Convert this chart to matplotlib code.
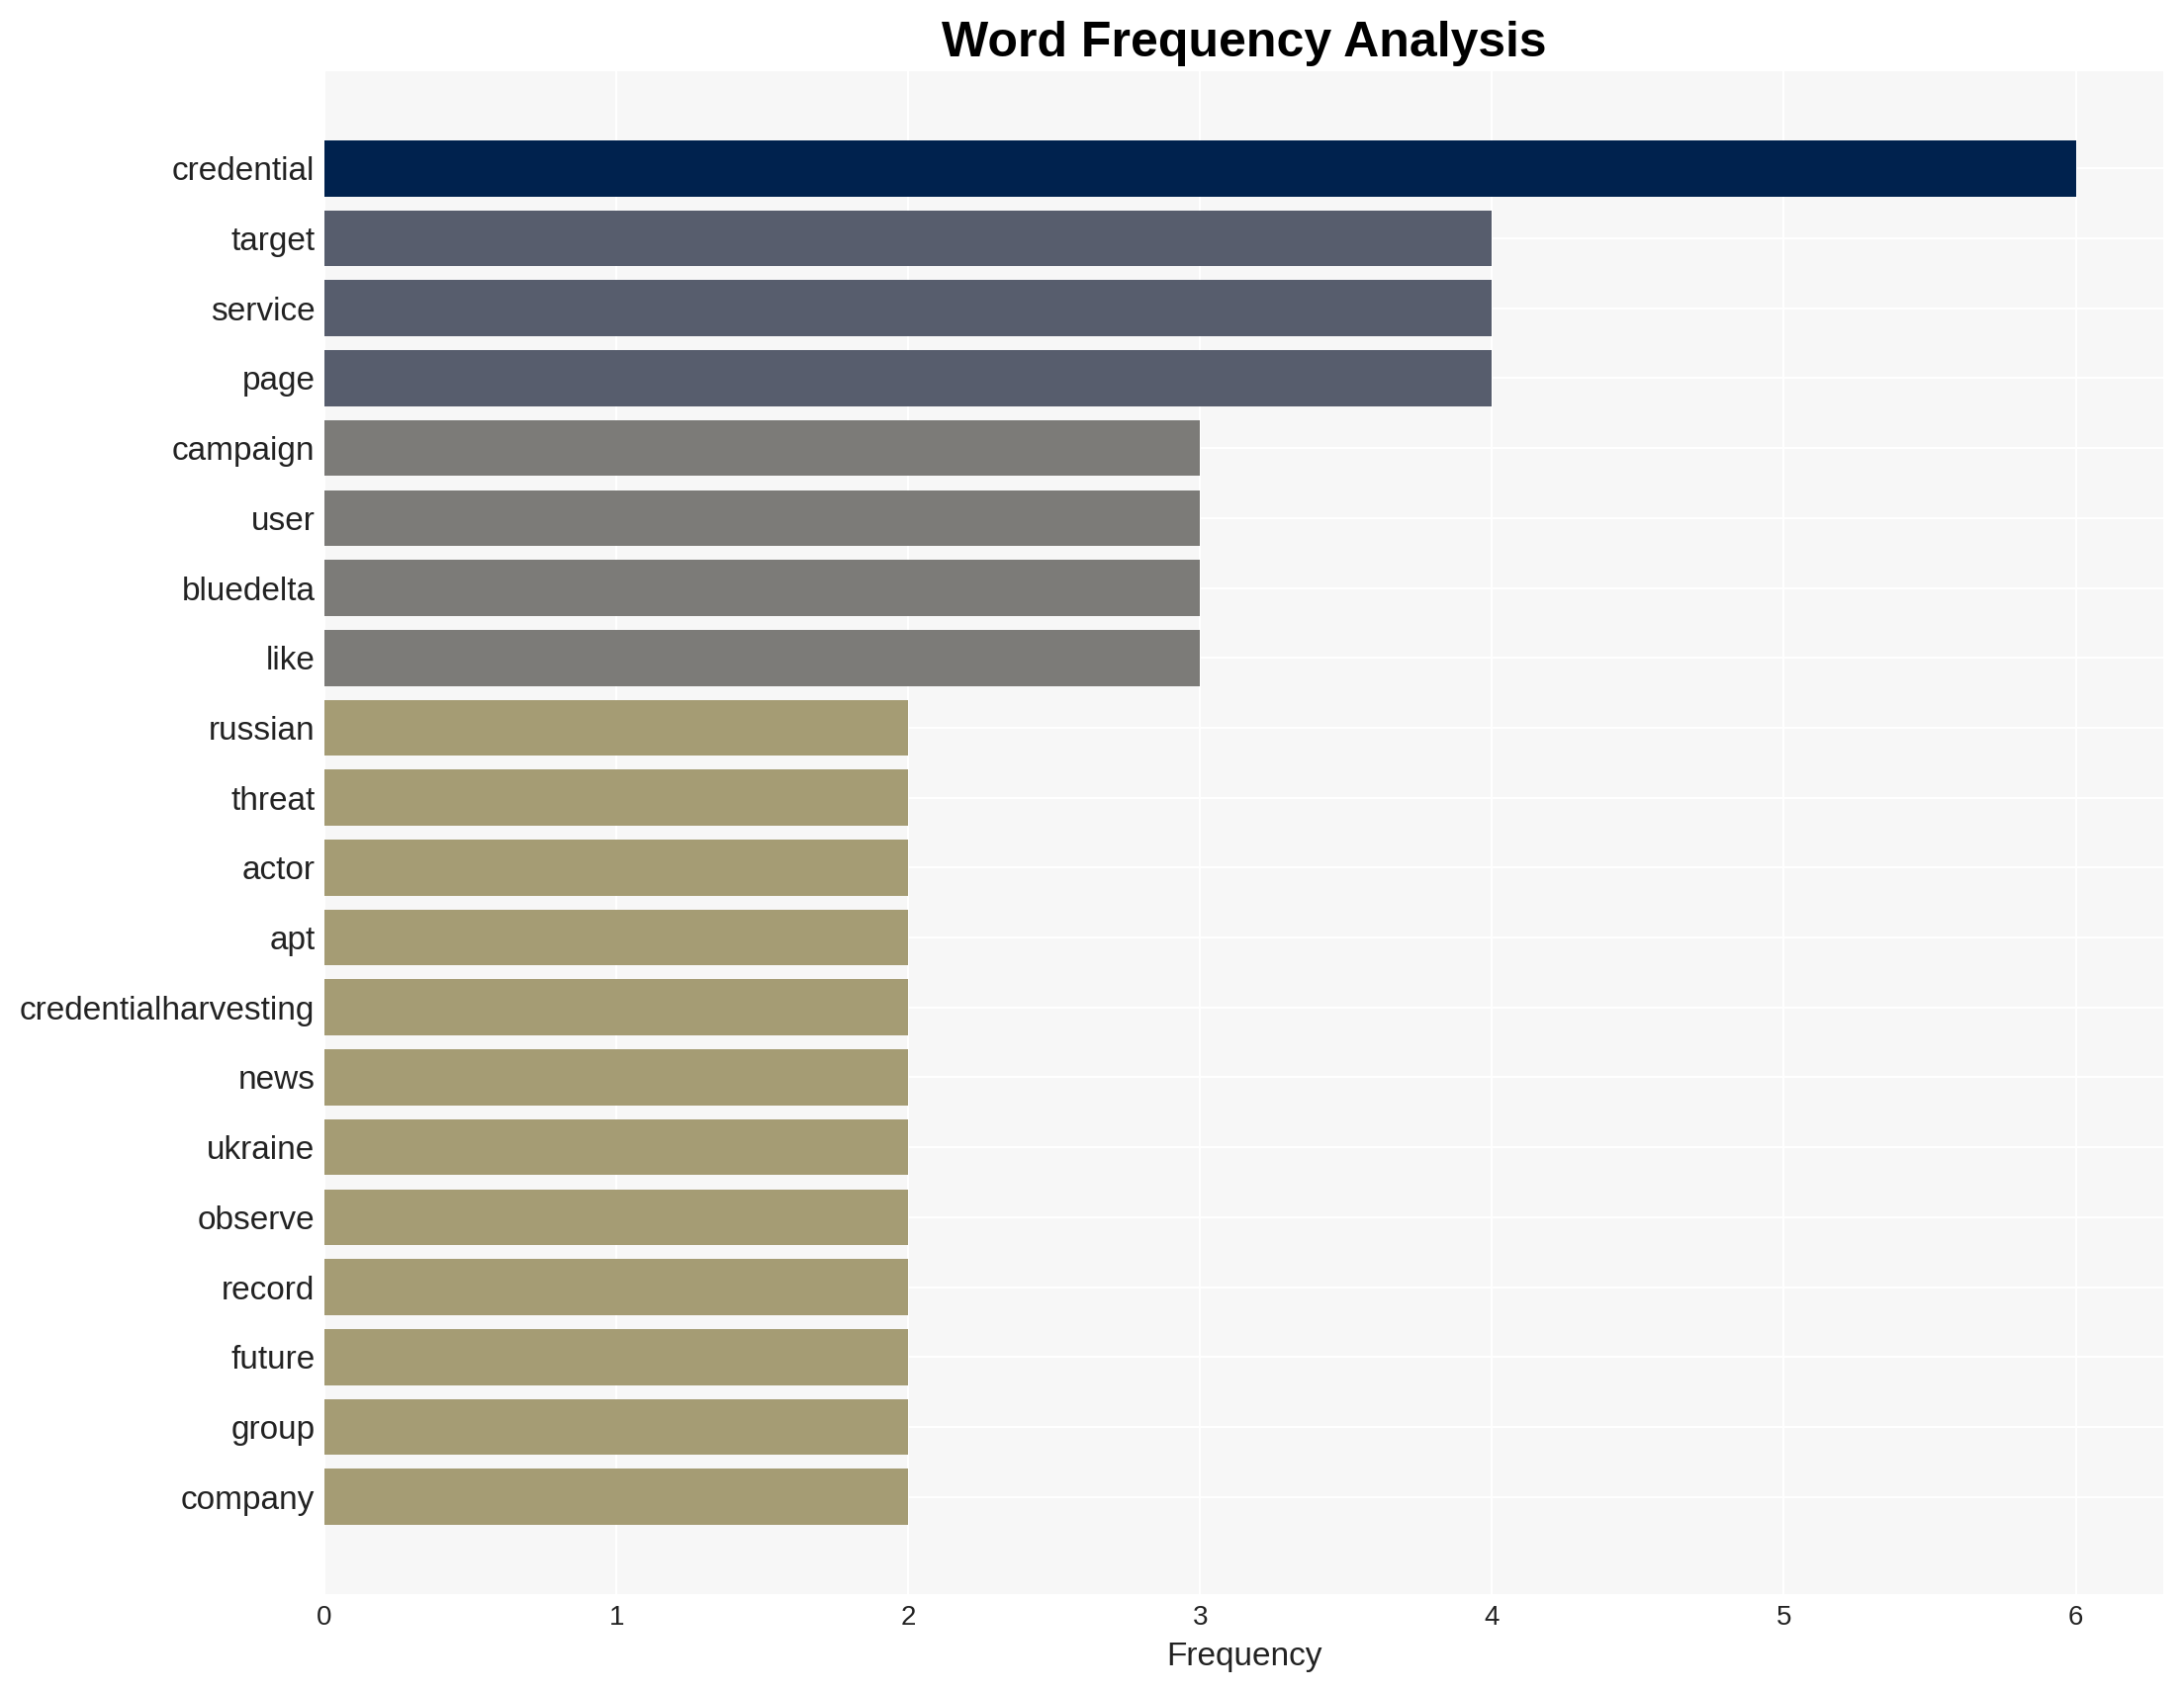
import matplotlib
matplotlib.use("Agg")
import matplotlib.pyplot as plt

plt.rcParams['font.family'] = ['Liberation Sans', 'DejaVu Sans']

words = ["credential", "target", "service", "page", "campaign", "user",
         "bluedelta", "like", "russian", "threat", "actor", "apt",
         "credentialharvesting", "news", "ukraine", "observe", "record",
         "future", "group", "company"]
counts = [6, 4, 4, 4, 3, 3, 3, 3, 2, 2, 2, 2, 2, 2, 2, 2, 2, 2, 2, 2]
color_for_count = {6: "#00224e", 4: "#575d6d", 3: "#7c7b78", 2: "#a59c74"}

fig = plt.figure(figsize=(11.04, 8.55), dpi=200)
ax = fig.add_axes([0.1486, 0.0573, 0.8419, 0.9006])
ax.set_facecolor("#f7f7f7")

ypos = list(range(len(words)))
ax.barh(ypos, counts, height=0.8, color=[color_for_count[c] for c in counts], zorder=2)
ax.set_yticks(ypos)
ax.set_yticklabels(words, fontsize=12, color="#222222")
ax.invert_yaxis()
ax.set_xlim(0, 6.3)
ax.set_xticks([0, 1, 2, 3, 4, 5, 6])
ax.tick_params(axis='x', labelsize=10, length=0, pad=4, colors="#222222")
ax.tick_params(axis='y', length=0, pad=3.5)
ax.grid(True, color="white", linewidth=0.8, zorder=0)
ax.set_axisbelow(True)
for s in ax.spines.values():
    s.set_visible(False)

ax.set_xlabel("Frequency", fontsize=12, color="#222222", labelpad=4)
ax.set_title("Word Frequency Analysis", fontsize=18, fontweight="bold", pad=5.5)

fig.savefig("out.png", dpi=200)
